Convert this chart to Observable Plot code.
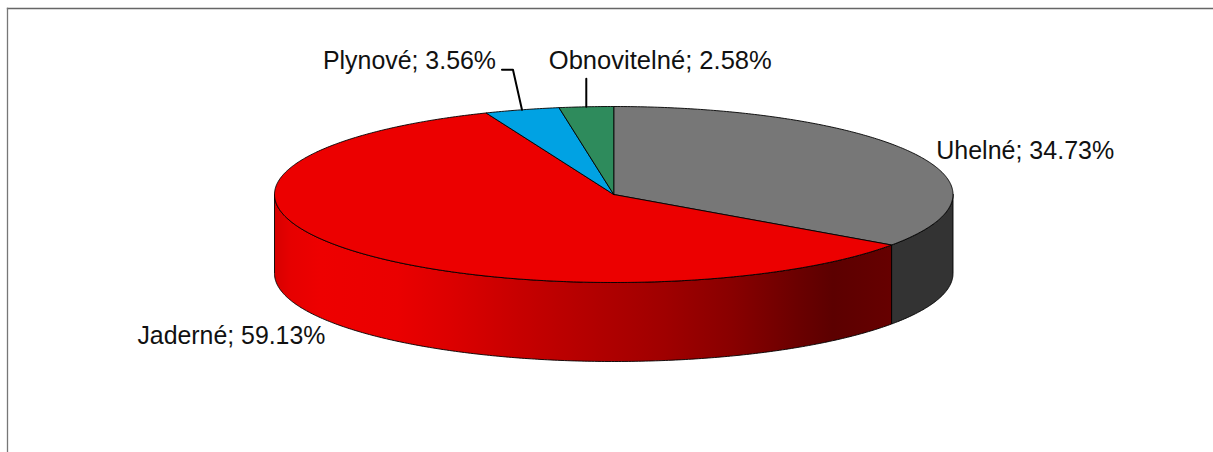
<!DOCTYPE html>
<html>
<head>
<meta charset="utf-8">
<script src="https://cdn.jsdelivr.net/npm/d3@7"></script>
<script src="https://cdn.jsdelivr.net/npm/@observablehq/plot@0.6"></script>
<style>
html,body{margin:0;padding:0;background:#fff;}
svg{display:block;}
</style>
</head>
<body>
<div id="chart"></div>
<script>
// Chart values
const names = ["Uhelné", "Jaderné", "Plynové", "Obnovitelné"];
const shares = [34.73, 59.13, 3.56, 2.58];

// Styles and layout
const topColors = ["#777777", "#ec0000", "#00a2e3", "#2e8b5c"];
const W = 1213, H = 452;
const xRange = [274, 952.5], yRange = [282, 106];
const ux = 2 / (xRange[1] - xRange[0]), uy = 2 / (yRange[0] - yRange[1]);
const depth = 79 * uy;
// label centre relative to slice mid-angle on the rim, in px
const labelOffset = [[110.5, -3], [-117, 86], [-112.5, -49], [74, -46]];
// rendered label widths, in px (the original face is narrower than Liberation Sans)
const labelWidth = [178, 188, 173, 223];
// leader polylines relative to the rim, in px
const leaders = [null, null, [[0, 0], [-9, -40], [-20, -40]], [[0, 0], [0, -28]]];
const gradientStops = [
  [0, "#d60000"], [0.026, "#e60000"], [0.075, "#ee0000"], [0.2, "#ea0000"],
  [0.285, "#dc0000"], [0.40, "#c60000"], [0.53, "#b00000"], [0.63, "#a00000"],
  [0.744, "#880000"], [0.85, "#6a0000"], [0.905, "#5c0000"], [1, "#660000"]
];

// Pie geometry from the values: clockwise from 12 o'clock
const slices = d3.pie().sort(null)(shares);
const rim = (t, off = 0) => ({x: Math.sin(t), y: Math.cos(t) - off});
const arcPts = (a, b, off = 0) => {
  const n = Math.max(2, Math.ceil(Math.abs(b - a) / 0.01));
  return d3.range(n + 1).map(i => rim(a + (b - a) * i / n, off));
};
const wall = (a, b) => [...arcPts(a, b), ...arcPts(b, a, depth), rim(a)];
const sector = (a, b) => [{x: 0, y: 0}, ...arcPts(a, b), {x: 0, y: 0}];
const poly = (pts, fill) => Plot.line(pts, {
  x: "x", y: "y", fill, stroke: "#000", strokeWidth: 0.9, strokeLinejoin: "round"
});
const lowerLeftEnd = Math.PI * 1.5, lowerRightStart = Math.PI / 2;

const gradient = () => {
  const defs = d3.create("svg:defs");
  const g = defs.append("linearGradient").attr("id", "redWall");
  gradientStops.forEach(([o, c]) => g.append("stop").attr("offset", o).attr("stop-color", c));
  return defs.node();
};

const midAngles = slices.map(s => (s.startAngle + s.endAngle) / 2);
const labels = names.map((n, i) => {
  const p = rim(midAngles[i]);
  return {
    x: p.x + labelOffset[i][0] * ux,
    y: p.y - labelOffset[i][1] * uy,
    text: `${n}; ${shares[i].toFixed(2)}%`,
    width: labelWidth[i]
  };
});
const leaderMarks = leaders.flatMap((l, i) => {
  if (!l) return [];
  const p = rim(midAngles[i]);
  return [Plot.line(l.map(([dx, dy]) => ({x: p.x + dx * ux, y: p.y - dy * uy})), {
    x: "x", y: "y", stroke: "#000", strokeWidth: 2
  })];
});

const chart = Plot.plot({
  width: W, height: H,
  marginTop: 8, marginLeft: 7, marginRight: 0, marginBottom: 0,
  x: {domain: [-1, 1], range: xRange, axis: null},
  y: {domain: [-1, 1], range: yRange, axis: null},
  style: {background: "#fff"},
  marks: [
    Plot.frame({anchor: "top", stroke: "#666", strokeWidth: 1.3}),
    Plot.frame({anchor: "left", stroke: "#777", strokeWidth: 1.3}),
    gradient,
    poly(wall(lowerRightStart, slices[0].endAngle), "#333333"),
    poly(wall(slices[1].startAngle, lowerLeftEnd), "url(#redWall)"),
    ...slices.map((s, i) => poly(sector(s.startAngle, s.endAngle), topColors[i])),
    ...leaderMarks,
    Plot.text(labels, {
      x: "x", y: "y", text: "text", textAnchor: "middle", lineAnchor: "middle",
      fontFamily: "Liberation Sans", fontSize: 26.5, fill: "#111",
      render(index, scales, values, dimensions, context, next) {
        const g = next(index, scales, values, dimensions, context);
        d3.select(g).selectAll("text")
          .attr("lengthAdjust", "spacingAndGlyphs")
          .attr("textLength", (_, j) => labels[index[j]].width);
        return g;
      }
    })
  ]
});
document.getElementById("chart").append(chart);
</script>
</body>
</html>
